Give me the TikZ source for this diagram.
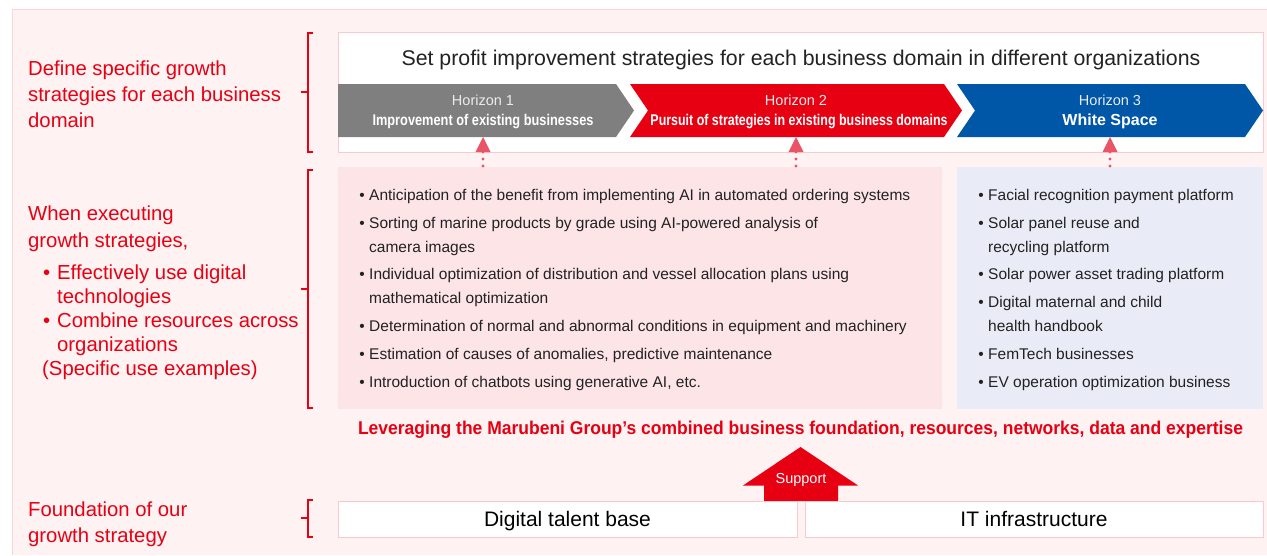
\documentclass[tikz,border=0pt]{standalone}
\usepackage{fontspec}
\setmainfont{Liberation Sans}
\usepackage{graphicx}
\usetikzlibrary{arrows.meta}
\definecolor{bgfill}{HTML}{FEF2F3}
\definecolor{bgline}{HTML}{FAD4D8}
\definecolor{boxline}{HTML}{F8C9CE}
\definecolor{mred}{HTML}{E60012}
\definecolor{mgray}{HTML}{7F7F7F}
\definecolor{mblue}{HTML}{0057A8}
\definecolor{pinkfill}{HTML}{FCE4E7}
\definecolor{bluefill}{HTML}{E9EBF6}
\definecolor{dotred}{HTML}{EA5565}
\definecolor{txt}{HTML}{222222}
\newcommand{\sq}[2]{\resizebox{#1pt}{\height}{#2}}
\newcommand{\bu}{\makebox[0pt][r]{\textbullet\hspace{4.5pt}}}
\newcommand{\lbu}{\makebox[0pt][r]{\textbullet\hspace{7pt}}}
\begin{document}
\begin{tikzpicture}[x=1pt,y=-1pt,
  lbl/.style={text=mred, font=\fontsize{20.3}{26}\selectfont, anchor=base west, inner sep=0pt},
  bul/.style={text=txt, font=\fontsize{15.5}{24}\selectfont, anchor=base west, inner sep=0pt},
  brk/.style={draw=mred, line width=1.5pt},
  wbox/.style={draw=boxline, line width=1pt, fill=white, anchor=north west, inner sep=0pt, outer sep=0pt},
  hsmall/.style={text=white!92!black, font=\fontsize{14.5}{16}\selectfont, anchor=base, inner sep=0pt},
  hbig/.style={text=white, font=\fontsize{15.5}{18}\selectfont\bfseries, anchor=base, inner sep=0pt},
  dotcon/.style={draw=dotred, line width=3.2pt, line cap=round, dash pattern=on 0pt off 7pt,
     -{Triangle[width=15pt,length=15pt,fill=dotred,line width=0pt,sep=0pt]}, shorten >=0pt},
]
\useasboundingbox (0,0) rectangle (1267,555);
\fill[white] (0,0) rectangle (1267,555);
\fill[bgfill] (12,9) rectangle (1267,555);
\draw[bgline, line width=1pt] (12,555) -- (12,9) -- (1267,9);

% brackets
\draw[brk] (313,33) -- (308,33) -- (308,152) -- (313,152);
\draw[brk] (301,92) -- (308,92);
\draw[brk] (313,170) -- (308,170) -- (308,408) -- (313,408);
\draw[brk] (301,289) -- (308,289);
\draw[brk] (313,500) -- (308,500) -- (308,537) -- (313,537);
\draw[brk] (301,518) -- (308,518);

% left labels
\node[lbl] (l1a) at (28,75) {Define specific growth};
\node[lbl] (l1b) at (28,101) {strategies for each business};
\node[lbl] (l1c) at (28,127) {domain};
\node[lbl] (l2a) at (28,220) {When executing};
\node[lbl] (l2b) at (28,247) {growth strategies,};
\node[lbl] (l2c) at (57,279) {\lbu Effectively use digital};
\node[lbl] (l2d) at (57,303) {technologies};
\node[lbl] (l2e) at (57,327) {\lbu Combine resources across};
\node[lbl] (l2f) at (57,351) {organizations};
\node[lbl] (l2g) at (42,375) {(Specific use examples)};
\node[lbl] (l3a) at (28,516) {Foundation of our};
\node[lbl] (l3b) at (28,542) {growth strategy};

% top box
\node[wbox, minimum width=925pt, minimum height=120pt] (topbox) at (338,32) {};
\node[text=txt, font=\fontsize{21.3}{24}\selectfont, anchor=base, inner sep=0pt] (title) at (801,65)
  {Set profit improvement strategies for each business domain in different organizations};

% horizon arrows
\fill[mgray] (338,84) -- (616,84) -- (634,110.5) -- (616,137) -- (338,137) -- cycle;
\fill[mred] (630,84) -- (944,84) -- (962,110.5) -- (944,137) -- (630,137) -- (648,110.5) -- cycle;
\fill[mblue] (957,84) -- (1245,84) -- (1263,110.5) -- (1245,137) -- (957,137) -- (975,110.5) -- cycle;
\node[hsmall] (h1a) at (483,105) {Horizon 1};
\node[hbig] (h1b) at (483,125) {\sq{221}{Improvement of existing businesses}};
\node[hsmall] (h2a) at (796,105) {Horizon 2};
\node[hbig] (h2b) at (799,125) {\sq{297}{Pursuit of strategies in existing business domains}};
\node[hsmall] (h3a) at (1110,105) {Horizon 3};
\node[text=white, font=\fontsize{16}{18}\selectfont\bfseries, anchor=base, inner sep=0pt] (h3b) at (1110,125.5) {White Space};
\coordinate (h1t) at (483,137);
\coordinate (h2t) at (796,137);
\coordinate (h3t) at (1110,137);

% example boxes
\node[fill=pinkfill, anchor=north west, minimum width=604pt, minimum height=242pt, inner sep=0pt, outer sep=0pt] (pinkbox) at (338,167) {};
\node[fill=bluefill, anchor=north west, minimum width=306pt, minimum height=242pt, inner sep=0pt, outer sep=0pt] (bluebox) at (957,167) {};

\coordinate (d1) at (483,166);
\coordinate (d2) at (796,166);
\coordinate (d3) at (1110,166);
\draw[dotcon] (d1) -- (h1t);
\draw[dotcon] (d2) -- (h2t);
\draw[dotcon] (d3) -- (h3t);

% pink bullets
\node[bul] (p1) at (369,200) {\bu Anticipation of the benefit from implementing AI in automated ordering systems};
\node[bul] (p2) at (369,228) {\bu Sorting of marine products by grade using AI-powered analysis of};
\node[bul] (p3) at (369,252) {camera images};
\node[bul] (p4) at (369,279) {\bu Individual optimization of distribution and vessel allocation plans using};
\node[bul] (p5) at (369,303) {mathematical optimization};
\node[bul] (p6) at (369,331) {\bu Determination of normal and abnormal conditions in equipment and machinery};
\node[bul] (p7) at (369,359) {\bu Estimation of causes of anomalies, predictive maintenance};
\node[bul] (p8) at (369,387) {\bu Introduction of chatbots using generative AI, etc.};

% blue bullets
\node[bul] (b1) at (988,200) {\bu Facial recognition payment platform};
\node[bul] (b2) at (988,228) {\bu Solar panel reuse and};
\node[bul] (b3) at (988,252) {recycling platform};
\node[bul] (b4) at (988,279) {\bu Solar power asset trading platform};
\node[bul] (b5) at (988,307) {\bu Digital maternal and child};
\node[bul] (b6) at (988,331) {health handbook};
\node[bul] (b7) at (988,359) {\bu FemTech businesses};
\node[bul] (b8) at (988,387) {\bu EV operation optimization business};

% leveraging line
\node[text=mred, font=\fontsize{18.5}{20}\selectfont\bfseries, anchor=base, inner sep=0pt] (lev) at (800.5,434.5)
  {\sq{885}{Leveraging the Marubeni Group’s combined business foundation, resources, networks, data and expertise}};

% support arrow
\fill[mred] (764,501) -- (764,485.5) -- (743,485.5) -- (800.5,447) -- (858,485.5) -- (838,485.5) -- (838,501) -- cycle;
\node[text=white, font=\fontsize{14.5}{16}\selectfont, anchor=base, inner sep=0pt] (sup) at (801,483) {Support};

% foundation boxes
\node[wbox, minimum width=459pt, minimum height=36pt] (talent) at (338,501) {};
\node[text=black, font=\fontsize{21}{24}\selectfont, anchor=base, inner sep=0pt] (talentt) at (567.5,526) {Digital talent base};
\node[wbox, minimum width=458pt, minimum height=36pt] (itbox) at (805,501) {};
\node[text=black, font=\fontsize{21}{24}\selectfont, anchor=base, inner sep=0pt] (itt) at (1034,526) {IT infrastructure};
\end{tikzpicture}
\end{document}
